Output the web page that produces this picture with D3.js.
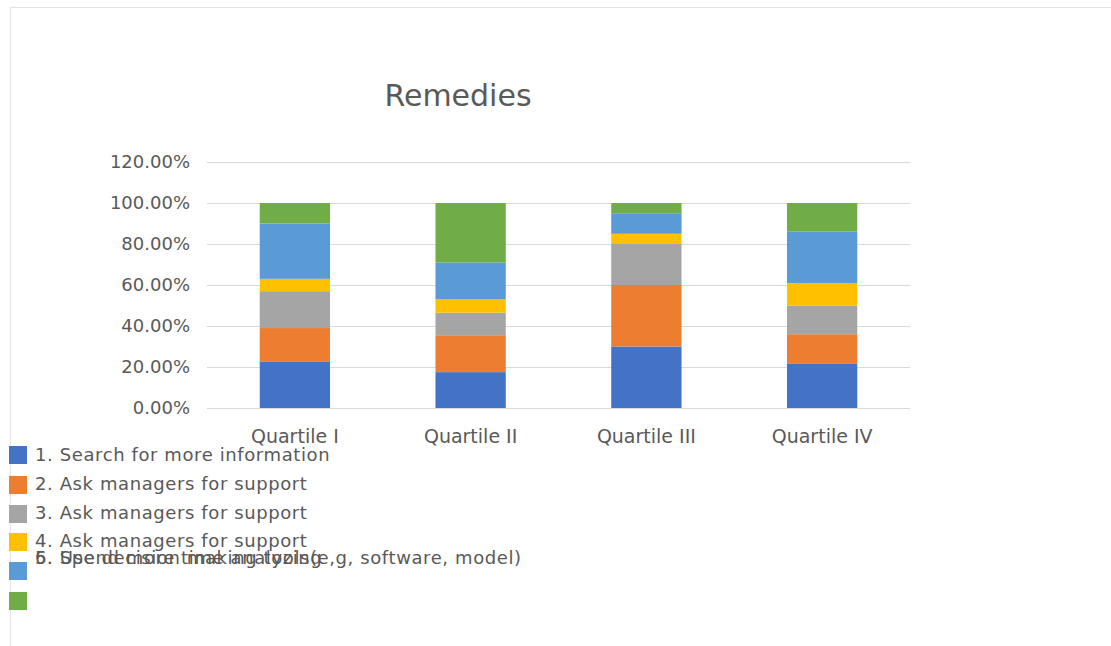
<!DOCTYPE html>
<html>
<head>
<meta charset="utf-8">
<script src="https://cdn.jsdelivr.net/npm/d3@7"></script>
<style>
  html, body { margin: 0; padding: 0; background: #fff; }
  svg { display: block; }
</style>
</head>
<body>
<svg id="chart" width="1111" height="646"></svg>
<script>
// Quartile groups along the x axis
const categories = ["Quartile I", "Quartile II", "Quartile III", "Quartile IV"];

// Remedy series (share of responses per quartile, in %)
const seriesNames = [
  "1. Search for more information",
  "2. Ask managers for support",
  "3. Ask managers for support",
  "4. Ask managers for support",
  "5. Spend more time analyzing",
  "6. Use decision making tools(e,g, software, model)"
];
const search   = [22.5, 17.5, 30, 21.5];
const managers = [16.5, 18, 30, 14.5];
const askMore  = [18, 11, 20, 14];
const askAgain = [6, 6.5, 5, 11];
const analyze  = [27, 18, 10, 25];
const tools    = [10, 29, 5, 14];
const seriesValues = [search, managers, askMore, askAgain, analyze, tools];

const tickValues = [0, 20, 40, 60, 80, 100, 120];
const colors = ["#4472C4", "#ED7D31", "#A5A5A5", "#FFC000", "#5B9BD5", "#70AD47"];

const svg = d3.select("#chart");
const W = 1111, H = 646;

// light frame along the top and left edges
svg.append("line").attr("x1", 10).attr("y1", 7.5).attr("x2", W).attr("y2", 7.5)
  .attr("stroke", "#e3e3e3").attr("stroke-width", 1);
svg.append("line").attr("x1", 10.5).attr("y1", 7).attr("x2", 10.5).attr("y2", H)
  .attr("stroke", "#e3e3e3").attr("stroke-width", 1);

const plot = { left: 207, right: 910, top: 162, bottom: 408 };

const x = d3.scaleBand().domain(categories).range([plot.left, plot.right]).paddingInner(0.6).paddingOuter(0.3);
const y = d3.scaleLinear().domain([0, 120]).range([plot.bottom, plot.top]);

// gridlines
svg.append("g").selectAll("line").data(tickValues).join("line")
  .attr("x1", plot.left).attr("x2", plot.right)
  .attr("y1", d => Math.round(y(d)) + 0.5).attr("y2", d => Math.round(y(d)) + 0.5)
  .attr("stroke", "#d9d9d9").attr("stroke-width", 1);

// y axis labels
const yAxis = d3.axisLeft(y).tickValues(tickValues).tickSize(0).tickPadding(0)
  .tickFormat(d => d.toFixed(2) + "%");
const gy = svg.append("g").attr("transform", `translate(${190},0)`).call(yAxis);
gy.select(".domain").remove();
gy.selectAll("text").attr("fill", "#595959").style("font-family", "DejaVu Sans")
  .style("font-size", "18px");

// x axis labels
const xAxis = d3.axisBottom(x).tickSize(0).tickPadding(0);
const gx = svg.append("g").attr("transform", `translate(0,${429})`).call(xAxis);
gx.select(".domain").remove();
gx.selectAll("text").attr("fill", "#595959")
  .style("font-family", "DejaVu Sans")
  .style("font-size", "19px");

// stacked bars
const table = categories.map((c, i) => {
  const row = { category: c };
  seriesNames.forEach((s, k) => { row[s] = seriesValues[k][i]; });
  return row;
});
const stacked = d3.stack().keys(seriesNames)(table);

svg.append("g").selectAll("g").data(stacked).join("g")
  .attr("fill", (d, i) => colors[i])
  .selectAll("rect").data(d => d).join("rect")
  .attr("x", d => x(d.data.category))
  .attr("width", x.bandwidth())
  .attr("y", d => y(d[1]))
  .attr("height", d => y(d[0]) - y(d[1]));

// title
svg.append("text").attr("x", 458).attr("y", 106).attr("text-anchor", "middle")
  .attr("fill", "#595959").style("font-family", "DejaVu Sans").style("font-size", "30px")
  .text("Remedies");

// legend: swatches on a fixed step, last two labels share one line
const legend = svg.append("g");
const swatchY = [446, 476, 505, 533, 562, 592];
const labelY = [455, 484, 513, 541, 558, 558];
legend.selectAll("rect").data(colors).join("rect")
  .attr("x", 9).attr("y", (d, i) => swatchY[i])
  .attr("width", 18).attr("height", 18).attr("fill", d => d);
legend.selectAll("text").data(seriesNames).join("text")
  .attr("x", 35).attr("y", (d, i) => labelY[i]).attr("dy", "0.35em")
  .attr("fill", "#595959").style("font-family", "DejaVu Sans").style("font-size", "18px")
  .style("letter-spacing", "0.6px")
  .text(d => d);
</script>
</body>
</html>
